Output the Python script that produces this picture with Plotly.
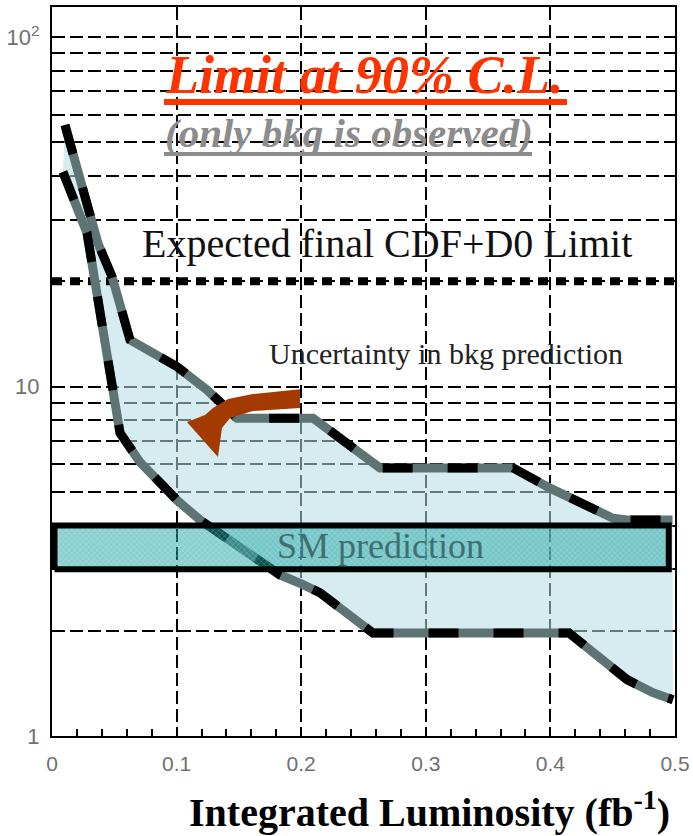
import plotly.graph_objects as go

# ---------------- data ----------------
lumi_upper = [0.0104, 0.0369, 0.0482, 0.0626, 0.1003, 0.1244, 0.1485, 0.2095,
              0.2632, 0.370, 0.3997, 0.4502, 0.4615, 0.498]
limit_upper = [56.0, 25.7, 20.6, 13.6, 11.4, 9.78, 8.12, 8.12,
               5.85, 5.85, 5.12, 4.2, 4.15, 4.15]

lumi_lower = [0.0088, 0.0169, 0.0281, 0.0409, 0.049, 0.0546, 0.0706, 0.1003,
              0.1188, 0.1509, 0.183, 0.2006, 0.2151, 0.2576, 0.415, 0.4222,
              0.4615, 0.4823, 0.4984]
limit_lower = [41.1, 34.9, 27.5, 14.5, 9.77, 7.36, 6.08, 4.73,
               4.15, 3.47, 2.89, 2.72, 2.57, 1.97, 1.97, 1.88,
               1.45, 1.33, 1.27]

expected_limit = 20.0
sm_range = [3.0, 4.0]
sm_lumi = [0.002, 0.495]

x_ticks = [0, 0.1, 0.2, 0.3, 0.4, 0.5]
x_tick_labels = ["0", "0.1", "0.2", "0.3", "0.4", "0.5"]
y_grid_values = [1, 2, 3, 4, 5, 6, 7, 8, 9,
                 10, 20, 30, 40, 50, 60, 70, 80, 90, 100]
y_labels = {1: "1", 10: "10", 100: "10<sup>2</sup>"}

# decorative curved arrow (lumi, limit)
arrow_x = [0.199, 0.1613, 0.1413, 0.1292, 0.1228, 0.1083, 0.1332, 0.1364,
           0.1429, 0.1613, 0.199]
arrow_y = [9.83, 9.52, 9.21, 8.68, 8.29, 7.91, 6.29, 7.61, 8.13, 8.51, 8.68]

# ---------------- figure ----------------
SERIF = "Liberation Serif, Times New Roman, serif"
SANS = "Liberation Sans Narrow, Arial Narrow, Liberation Sans, Arial, sans-serif"

fig = go.Figure()

# uncertainty band
fig.add_trace(go.Scatter(
    x=lumi_upper + lumi_lower[::-1],
    y=limit_upper + limit_lower[::-1],
    fill="toself", fillcolor="rgba(180,220,228,0.55)",
    line=dict(width=0), mode="lines", hoverinfo="skip", showlegend=False))

# expected final limit (thick dotted line)
fig.add_trace(go.Scatter(
    x=[0, 0.5], y=[expected_limit, expected_limit], mode="lines",
    line=dict(color="black", width=8, dash="10px,8px"), showlegend=False))

# limit curves: gray thick line with black segments
for xs, ys in [(lumi_upper, limit_upper), (lumi_lower, limit_lower)]:
    fig.add_trace(go.Scatter(x=xs, y=ys, mode="lines",
                             line=dict(color="#5e7474", width=9),
                             showlegend=False))
    fig.add_trace(go.Scatter(x=xs, y=ys, mode="lines",
                             line=dict(color="black", width=9, dash="30px,35px"),
                             showlegend=False))

# SM prediction box
fig.add_trace(go.Scatter(
    x=[sm_lumi[0], sm_lumi[1], sm_lumi[1], sm_lumi[0], sm_lumi[0]],
    y=[sm_range[0], sm_range[0], sm_range[1], sm_range[1], sm_range[0]],
    mode="lines", fill="toself", fillcolor="rgba(20,160,160,0.5)",
    fillpattern=dict(shape="x", fgcolor="white", fgopacity=0.35, size=4,
                     solidity=0.25),
    line=dict(color="black", width=6), showlegend=False))

# arrow
fig.add_trace(go.Scatter(
    x=arrow_x + [arrow_x[0]], y=arrow_y + [arrow_y[0]], mode="lines",
    fill="toself", fillcolor="#a33a00", line=dict(width=0, color="#a33a00"),
    showlegend=False))

grid_dash = "13px,5px"
fig.update_layout(
    width=693, height=836,
    margin=dict(l=52, r=18, t=7, b=100),
    paper_bgcolor="white", plot_bgcolor="white",
    showlegend=False,
    xaxis=dict(
        range=[0, 0.5], tickvals=x_ticks, ticktext=x_tick_labels,
        showgrid=True, gridcolor="black", gridwidth=1.6, griddash=grid_dash,
        showline=True, linecolor="black", linewidth=2, mirror=True,
        ticks="inside", ticklen=7, tickcolor="black", tickwidth=1.5,
        minor=dict(dtick=0.02, ticks="inside", ticklen=7, tickcolor="black",
                   tickwidth=1.5, showgrid=False),
        tickfont=dict(family=SANS, size=21, color="#707070"),
        ticklabelstandoff=8, zeroline=False, automargin=False),
    yaxis=dict(
        type="log", range=[0, 2.086],
        tickvals=y_grid_values,
        ticktext=[y_labels.get(v, "") for v in y_grid_values],
        showgrid=True, gridcolor="black", gridwidth=1.6, griddash=grid_dash,
        showline=True, linecolor="black", linewidth=2, mirror=True,
        ticks="", tickfont=dict(family=SANS, size=22, color="#707070"),
        ticklabelstandoff=6, zeroline=False, automargin=False),
)

ann = []
ann.append(dict(text="<b><i>Limit at 90% C.L.</i></b>", x=0.5024, y=0.907,
                font=dict(family=SERIF, size=54, color="#ff3300")))
ann.append(dict(text="<b><i>(only bkg is observed)</i></b>", x=0.4767, y=0.827,
                font=dict(family=SERIF, size=41, color="#8c8c8c")))
ann.append(dict(text="Expected final CDF+D0 Limit", x=0.5377, y=0.676,
                font=dict(family=SERIF, size=40, color="#111111")))
ann.append(dict(text="Uncertainty in bkg prediction", x=0.6324, y=0.525,
                font=dict(family=SERIF, size=30, color="#222222")))
ann.append(dict(text="SM prediction", x=0.528, y=0.2606,
                font=dict(family=SERIF, size=36, color="#3f6f70")))
ann.append(dict(text="<b>Integrated Luminosity (fb<sup>-1</sup>)</b>",
                x=0.6067, y=-0.1015,
                font=dict(family=SERIF, size=40, color="black")))
for a in ann:
    a.update(xref="paper", yref="paper", showarrow=False,
             xanchor="center", yanchor="middle")
fig.update_layout(annotations=ann)

# underlines
fig.add_shape(type="line", xref="paper", yref="paper",
              x0=0.1798, x1=0.8266, y0=0.8697, y1=0.8697,
              line=dict(color="#ff3300", width=6))
fig.add_shape(type="line", xref="paper", yref="paper",
              x0=0.1798, x1=0.7705, y0=0.7984, y1=0.7984,
              line=dict(color="#8c8c8c", width=4))

fig.write_html(
    "out.html",
    config={"displayModeBar": False},
    post_script="document.body.style.margin='0';document.body.style.overflow='hidden';")
